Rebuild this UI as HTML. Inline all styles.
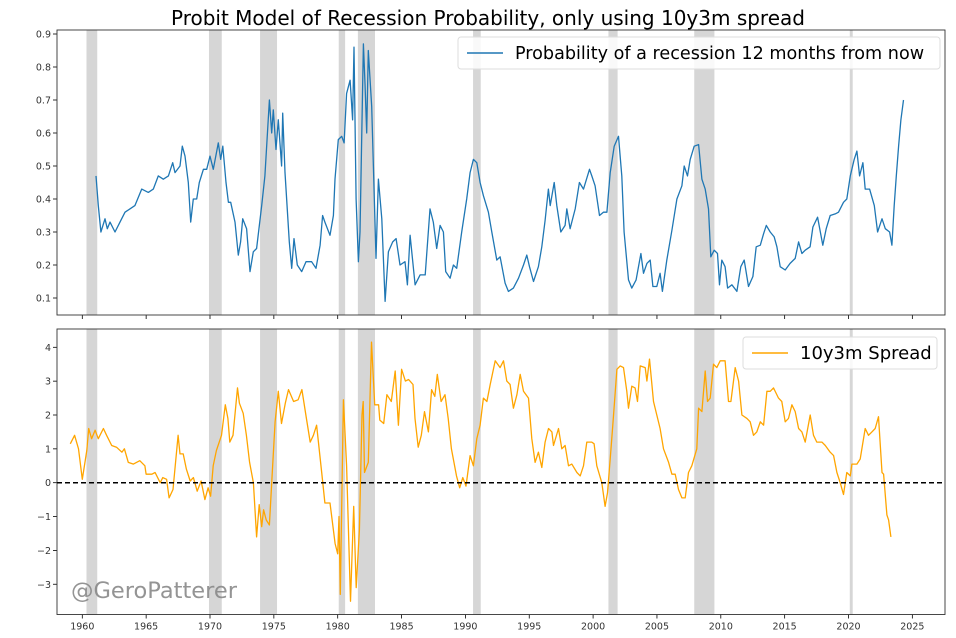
<!DOCTYPE html>
<html><head><meta charset="utf-8"><style>
html,body{margin:0;padding:0;background:#fff;width:956px;height:638px;overflow:hidden}
svg{display:block;font-family:"DejaVu Sans","Liberation Sans",sans-serif}
</style></head><body>
<svg id="chart" width="956" height="638" viewBox="0 0 956 638" xmlns="http://www.w3.org/2000/svg">
<text x="488" y="25" text-anchor="middle" font-size="20" fill="#000">Probit Model of Recession Probability, only using 10y3m spread</text>
<g id="top"></g>
<g id="bot"></g>
</svg>
<script>
const recessionStarts=[1960.33,1969.92,1973.92,1980.08,1981.58,1990.6,2001.2,2007.92,2020.1];
const recessionEnds=[1961.17,1970.92,1975.25,1980.58,1982.92,1991.2,2001.92,2009.5,2020.33];
const xTickYears=[1960,1965,1970,1975,1980,1985,1990,1995,2000,2005,2010,2015,2020,2025];
const probTickLabels=["0.1","0.2","0.3","0.4","0.5","0.6","0.7","0.8","0.9"];
const probTicks=[0.1,0.2,0.3,0.4,0.5,0.6,0.7,0.8,0.9];
const spreadTicks=[-3,-2,-1,0,1,2,3,4];
const spreadTickLabels=["\u22123","\u22122","\u22121","0","1","2","3","4"];
const probYears=[1961.07,1961.25,1961.46,1961.78,1961.96,1962.17,1962.56,1962.95,1963.34,1963.73,1964.12,1964.65,1965.17,1965.56,1965.95,1966.34,1966.74,1967.08,1967.26,1967.65,1967.83,1968.04,1968.3,1968.49,1968.69,1968.96,1969.16,1969.48,1969.74,1970.0,1970.26,1970.65,1970.84,1971.0,1971.25,1971.44,1971.62,1971.96,1972.22,1972.4,1972.56,1972.87,1973.13,1973.39,1973.65,1974.05,1974.3,1974.65,1974.83,1974.96,1975.17,1975.35,1975.61,1975.69,1975.87,1976.21,1976.4,1976.58,1976.84,1977.18,1977.52,1977.96,1978.3,1978.62,1978.82,1979.0,1979.4,1979.66,1979.79,1980.05,1980.31,1980.5,1980.7,1980.97,1981.17,1981.28,1981.44,1981.62,1981.75,1982.01,1982.14,1982.27,1982.4,1982.66,1983.0,1983.19,1983.45,1983.71,1983.97,1984.31,1984.57,1984.88,1985.27,1985.46,1985.67,1986.06,1986.45,1986.85,1987.23,1987.49,1987.75,1988.02,1988.28,1988.46,1988.8,1989.06,1989.32,1989.71,1990.1,1990.37,1990.63,1990.89,1991.15,1991.41,1991.8,1992.07,1992.46,1992.72,1993.11,1993.37,1993.76,1994.16,1994.55,1994.81,1995.02,1995.33,1995.72,1995.98,1996.24,1996.5,1996.64,1996.95,1997.16,1997.47,1997.81,1997.94,1998.2,1998.6,1998.93,1999.25,1999.72,1999.9,2000.16,2000.5,2000.81,2001.08,2001.34,2001.65,2001.99,2002.25,2002.43,2002.77,2003.03,2003.37,2003.74,2003.95,2004.21,2004.47,2004.68,2004.99,2005.25,2005.43,2005.77,2006.17,2006.56,2006.95,2007.13,2007.39,2007.6,2007.92,2008.26,2008.52,2008.78,2009.04,2009.22,2009.48,2009.74,2009.9,2010.08,2010.34,2010.53,2010.87,2011.26,2011.57,2011.83,2012.17,2012.51,2012.77,2013.09,2013.35,2013.56,2013.87,2014.18,2014.39,2014.65,2015.04,2015.43,2015.83,2016.09,2016.35,2016.61,2016.99,2017.21,2017.58,2017.99,2018.25,2018.57,2018.96,2019.22,2019.61,2019.87,2020.14,2020.45,2020.66,2020.87,2021.13,2021.31,2021.65,2022.02,2022.28,2022.62,2022.88,2023.22,2023.4,2023.58,2023.74,2023.92,2024.1,2024.31];
const probValues=[0.47,0.38,0.30,0.34,0.31,0.33,0.30,0.33,0.36,0.37,0.38,0.43,0.42,0.43,0.47,0.46,0.47,0.51,0.48,0.50,0.56,0.53,0.45,0.33,0.40,0.40,0.45,0.49,0.49,0.53,0.49,0.57,0.52,0.56,0.45,0.39,0.39,0.33,0.23,0.27,0.34,0.31,0.18,0.24,0.25,0.38,0.47,0.70,0.60,0.67,0.55,0.64,0.50,0.66,0.48,0.27,0.19,0.28,0.20,0.18,0.21,0.21,0.19,0.26,0.35,0.33,0.29,0.35,0.46,0.58,0.59,0.57,0.72,0.76,0.64,0.86,0.40,0.21,0.30,0.87,0.75,0.60,0.85,0.68,0.22,0.46,0.34,0.09,0.24,0.27,0.28,0.20,0.21,0.14,0.29,0.14,0.17,0.17,0.37,0.33,0.25,0.32,0.30,0.18,0.16,0.20,0.19,0.30,0.40,0.48,0.52,0.51,0.45,0.41,0.36,0.30,0.215,0.225,0.145,0.12,0.13,0.16,0.20,0.23,0.195,0.15,0.195,0.255,0.335,0.43,0.38,0.45,0.38,0.30,0.32,0.37,0.31,0.37,0.45,0.43,0.49,0.47,0.44,0.35,0.36,0.36,0.48,0.56,0.59,0.47,0.30,0.155,0.13,0.155,0.235,0.175,0.205,0.215,0.135,0.135,0.175,0.12,0.215,0.305,0.40,0.44,0.50,0.47,0.52,0.56,0.565,0.46,0.43,0.37,0.225,0.245,0.235,0.14,0.215,0.195,0.13,0.14,0.12,0.195,0.215,0.135,0.165,0.255,0.26,0.295,0.32,0.30,0.285,0.255,0.195,0.185,0.205,0.22,0.27,0.235,0.245,0.255,0.315,0.345,0.26,0.31,0.35,0.355,0.36,0.39,0.40,0.47,0.52,0.545,0.47,0.51,0.43,0.43,0.38,0.30,0.34,0.31,0.30,0.26,0.38,0.47,0.56,0.64,0.70];
const spreadYears=[1959.06,1959.4,1959.7,1960.0,1960.35,1960.5,1960.73,1961.0,1961.25,1961.65,1961.9,1962.3,1962.68,1963.1,1963.3,1963.6,1964.0,1964.5,1964.9,1965.0,1965.45,1965.7,1966.1,1966.3,1966.6,1966.8,1967.1,1967.5,1967.65,1967.9,1968.15,1968.45,1968.7,1969.0,1969.3,1969.6,1969.85,1970.05,1970.25,1970.5,1970.9,1971.2,1971.4,1971.55,1971.8,1972.15,1972.3,1972.6,1972.85,1973.1,1973.4,1973.65,1973.85,1974.05,1974.2,1974.4,1974.65,1974.85,1975.1,1975.35,1975.6,1975.9,1976.15,1976.55,1976.9,1977.2,1977.55,1977.85,1978.1,1978.35,1978.75,1979.0,1979.4,1979.8,1980.0,1980.1,1980.2,1980.45,1980.7,1981.0,1981.25,1981.45,1981.7,1981.9,1982.0,1982.1,1982.4,1982.65,1982.9,1983.2,1983.3,1983.6,1983.85,1984.2,1984.5,1984.75,1985.0,1985.3,1985.55,1985.9,1986.05,1986.3,1986.55,1986.8,1987.1,1987.35,1987.6,1987.8,1988.1,1988.4,1988.65,1988.9,1989.3,1989.55,1989.8,1990.05,1990.37,1990.63,1990.89,1991.15,1991.41,1991.68,1991.94,1992.33,1992.72,1992.98,1993.24,1993.5,1993.76,1994.03,1994.29,1994.55,1994.94,1995.2,1995.46,1995.72,1995.98,1996.24,1996.51,1996.77,1996.9,1997.29,1997.55,1997.81,1998.07,1998.33,1998.73,1998.99,1999.25,1999.51,1999.9,2000.08,2000.29,2000.68,2000.94,2001.13,2001.34,2001.54,2001.86,2002.12,2002.38,2002.64,2002.77,2003.03,2003.29,2003.48,2003.69,2004.08,2004.21,2004.42,2004.73,2004.99,2005.25,2005.51,2005.91,2006.17,2006.43,2006.69,2006.95,2007.21,2007.47,2007.73,2008.12,2008.26,2008.52,2008.78,2008.96,2009.17,2009.43,2009.69,2009.95,2010.34,2010.6,2010.79,2011.13,2011.39,2011.65,2012.04,2012.3,2012.56,2012.82,2013.09,2013.35,2013.61,2013.87,2014.13,2014.52,2014.78,2015.04,2015.3,2015.57,2015.83,2016.09,2016.35,2016.61,2017.0,2017.26,2017.52,2017.92,2018.18,2018.57,2018.83,2019.09,2019.35,2019.61,2019.87,2020.14,2020.27,2020.66,2020.92,2021.31,2021.57,2021.83,2022.09,2022.35,2022.62,2022.75,2023.01,2023.14,2023.32];
const spreadValues=[1.15,1.4,1.0,0.1,0.95,1.6,1.3,1.55,1.3,1.6,1.4,1.1,1.05,0.9,1.0,0.6,0.55,0.65,0.5,0.25,0.25,0.3,0.0,0.15,0.1,-0.45,-0.2,1.4,0.85,0.85,0.4,0.05,0.15,-0.25,0.05,-0.5,-0.15,-0.4,0.5,0.95,1.4,2.3,1.9,1.2,1.4,2.8,2.35,2.05,1.4,0.6,0.0,-1.6,-0.65,-1.3,-0.8,-1.1,-1.25,0.1,1.8,2.7,1.75,2.35,2.75,2.4,2.45,2.75,1.9,1.2,1.4,1.7,0.3,-0.6,-0.6,-1.8,-2.1,-1.0,-3.3,2.45,0.5,-3.5,-0.7,-3.1,-1.4,2.0,2.4,0.3,0.6,4.15,2.3,2.3,1.85,1.75,2.6,2.4,3.3,1.7,3.35,3.0,3.05,2.9,1.9,1.05,1.4,2.1,1.5,2.75,2.55,3.2,2.4,2.6,1.9,1.0,0.2,-0.15,0.15,-0.1,0.8,0.5,1.3,1.7,2.5,2.4,2.9,3.6,3.4,3.6,3.0,2.9,2.2,2.6,3.2,2.7,2.5,1.3,0.6,0.9,0.45,1.2,1.6,1.5,1.1,1.6,1.0,1.1,0.5,0.55,0.3,0.2,0.5,1.2,1.2,1.15,0.5,0.0,-0.7,-0.3,0.7,1.7,3.35,3.45,3.4,2.7,2.2,2.85,2.8,2.4,3.45,3.4,3.0,3.65,2.4,2.0,1.6,1.0,0.6,0.25,0.25,-0.2,-0.45,-0.45,0.3,0.5,1.0,2.2,2.1,3.3,2.4,2.5,3.5,3.4,3.6,3.6,2.4,2.4,3.4,3.0,2.0,1.9,1.8,1.4,1.5,1.8,1.7,2.7,2.7,2.8,2.5,2.4,1.8,1.9,2.3,2.1,1.6,1.5,1.2,2.0,1.4,1.2,1.2,1.1,0.9,0.8,0.3,0.0,-0.35,0.3,0.2,0.55,0.55,0.7,1.6,1.4,1.5,1.6,1.95,0.3,0.25,-0.95,-1.1,-1.6];

const NS="http://www.w3.org/2000/svg";
const L=57,R=945;
function xs(yr){return 82.3+(yr-1960)*12.77;}
function mk(tag,at,parent){const e=document.createElementNS(NS,tag);for(const k in at)e.setAttribute(k,at[k]);parent.appendChild(e);return e;}
function panel(g,top,bottom,yScale,ticks,labels,years,vals,color,showX){
  for(let i=0;i<recessionStarts.length;i++){
    const r=mk('rect',{x:xs(recessionStarts[i]),y:top,width:xs(recessionEnds[i])-xs(recessionStarts[i]),height:bottom-top,fill:'#d6d6d6'},g);
    
    
  }
  for(let i=0;i<ticks.length;i++){
    const y=yScale(ticks[i]);
    const t=mk('line',{x1:L-4,x2:L,y1:y,y2:y,stroke:'#000','stroke-width':0.8},g);
    
    
    const tx=mk('text',{x:L-6,y:y+3.5,'text-anchor':'end','font-size':9.5,fill:'#333'},g);
    tx.textContent=labels[i];
    
    
  }
  for(const yr of xTickYears){
    const x=xs(yr);
    const t=mk('line',{x1:x,x2:x,y1:bottom,y2:bottom+4,stroke:'#000','stroke-width':0.8},g);
    
    
    if(showX){
      const tx=mk('text',{x:x,y:bottom+15,'text-anchor':'middle','font-size':9.5,fill:'#333'},g);
      tx.textContent=yr;
      
      
    }
  }
  let d='';
  for(let i=0;i<years.length;i++)d+=(i?'L':'M')+xs(years[i]).toFixed(1)+','+yScale(vals[i]).toFixed(1);
  const p=mk('path',{d:d,fill:'none',stroke:color,'stroke-width':1.3,'stroke-linejoin':'round'},g);
  
  
  const f=mk('rect',{x:L,y:top,width:R-L,height:bottom-top,fill:'none',stroke:'#333','stroke-width':0.9},g);
  
  
}
const topG=document.getElementById('top'),botG=document.getElementById('bot');
const yTop=v=>34+(0.9-v)*330;
const yBot=v=>482.7-v*33.85;
panel(topG,30,315,yTop,probTicks,probTickLabels,probYears,probValues,'#1f77b4',false);
panel(botG,329,614.5,yBot,spreadTicks,spreadTickLabels,spreadYears,spreadValues,'#ffa500',true);
const z=mk('line',{x1:L,x2:R,y1:yBot(0),y2:yBot(0),stroke:'#000','stroke-width':1.5,'stroke-dasharray':'5,3'},botG);


function legend(g,x,y,w,h,color,label,name,fs){
  const lg=mk('g',{},g);
  
  
  mk('rect',{x:x,y:y,width:w,height:h,rx:3,fill:'#fff','fill-opacity':0.85,stroke:'#ddd'},lg);
  mk('line',{x1:x+9,x2:x+45,y1:y+h/2,y2:y+h/2,stroke:color,'stroke-width':1.5},lg);
  const t=mk('text',{x:x+57,y:y+h/2+6,'font-size':fs,fill:'#000'},lg);
  t.textContent=label;
}
legend(topG,458,37,482,32,'#1f77b4','Probability of a recession 12 months from now','top-legend',17.6);
legend(botG,743,337,194,32,'#ffa500','10y3m Spread','bottom-legend',18);
const wm=mk('text',{x:71,y:598,'font-size':22.5,fill:'#888','fill-opacity':0.9},botG);
wm.textContent='@GeroPatterer';


</script>
</body></html>
